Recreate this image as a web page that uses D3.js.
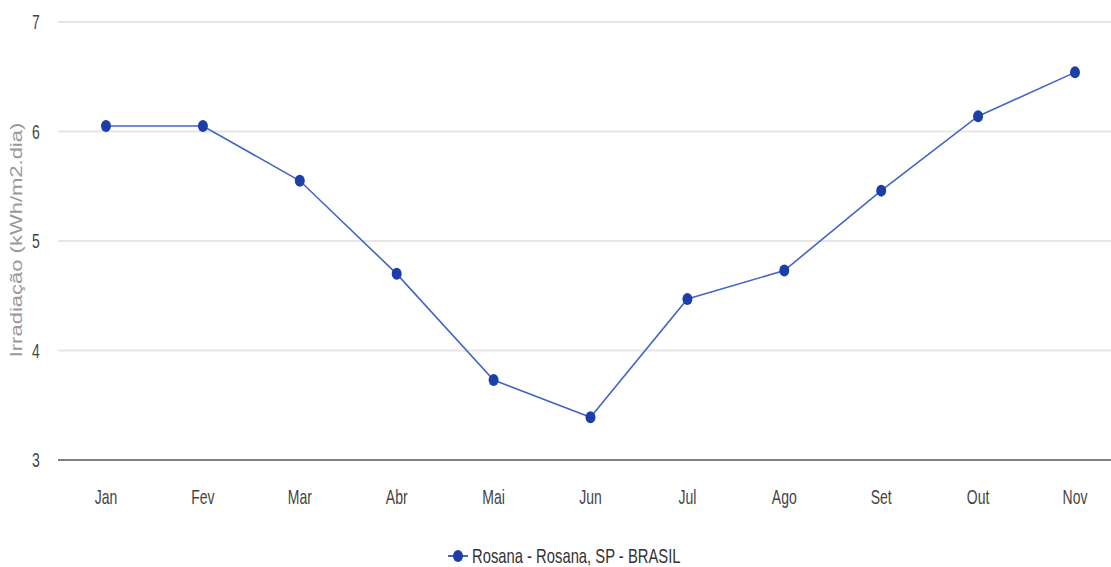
<!DOCTYPE html>
<html><head><meta charset="utf-8">
<script src="https://cdn.jsdelivr.net/npm/d3@7"></script>
<style>body{margin:0;background:#fff}svg{display:block}text{font-family:"Liberation Sans",Arial,sans-serif}</style>
</head><body>
<svg id="c" width="1111" height="567"></svg>
<script>
const months = ["Jan","Fev","Mar","Abr","Mai","Jun","Jul","Ago","Set","Out","Nov"];
const values = [6.05,6.05,5.55,4.70,3.73,3.39,4.47,4.73,5.46,6.14,6.54];
const yTicks = [3,4,5,6,7];
const seriesName = "Rosana - Rosana, SP - BRASIL";
const yLabel = "Irradiação (kWh/m2.dia)";

const svg = d3.select("#c");
const x = d3.scalePoint().domain(months).range([106,1075]);
const y = d3.scaleLinear().domain([3,7]).range([460,22]);
const SX = 0.7;

// grid
svg.append("g").selectAll("line").data(yTicks.filter(t=>t>3)).join("line")
  .attr("x1",58).attr("x2",1111).attr("y1",d=>y(d)).attr("y2",d=>y(d))
  .attr("stroke","#e6e6e6").attr("stroke-width",2);
svg.append("line").attr("x1",58).attr("x2",1111).attr("y1",y(3)).attr("y2",y(3))
  .attr("stroke","#808080").attr("stroke-width",2);

// y tick labels
svg.append("g").selectAll("text").data(yTicks).join("text")
  .attr("transform",d=>`translate(36,${y(d)+7}) scale(${SX},1)`)
  .attr("text-anchor","middle").attr("font-size",20).attr("fill","#444").text(d=>d);

// x labels
svg.append("g").selectAll("text").data(months).join("text")
  .attr("transform",d=>`translate(${x(d)},${504}) scale(${SX},1)`)
  .attr("text-anchor","middle").attr("font-size",20).attr("fill","#444").text(d=>d);

// y axis title
svg.append("text").attr("transform","translate(22,240) rotate(-90) scale(1,0.74)")
  .attr("text-anchor","middle").attr("font-size",22).attr("fill","#999").text(yLabel);

// line
svg.append("path").datum(values)
  .attr("d",d3.line().x((d,i)=>x(months[i])).y(d=>y(d)))
  .attr("fill","none").attr("stroke","#4565c4").attr("stroke-width",1.6);
svg.append("g").selectAll("ellipse").data(values).join("ellipse")
  .attr("cx",(d,i)=>x(months[i])).attr("cy",d=>y(d)).attr("rx",5).attr("ry",6)
  .attr("fill","#1b3fa6");

// legend
const lg = svg.append("g").attr("transform","translate(448,556)");
lg.append("line").attr("x1",0).attr("x2",20).attr("y1",0).attr("y2",0).attr("stroke","#4565c4").attr("stroke-width",2);
lg.append("ellipse").attr("cx",10).attr("cy",0).attr("rx",5).attr("ry",6).attr("fill","#1b3fa6");
lg.append("text").attr("transform",`translate(24,7) scale(0.74,1)`).attr("font-size",20).attr("fill","#333").text(seriesName);
</script>
</body></html>
